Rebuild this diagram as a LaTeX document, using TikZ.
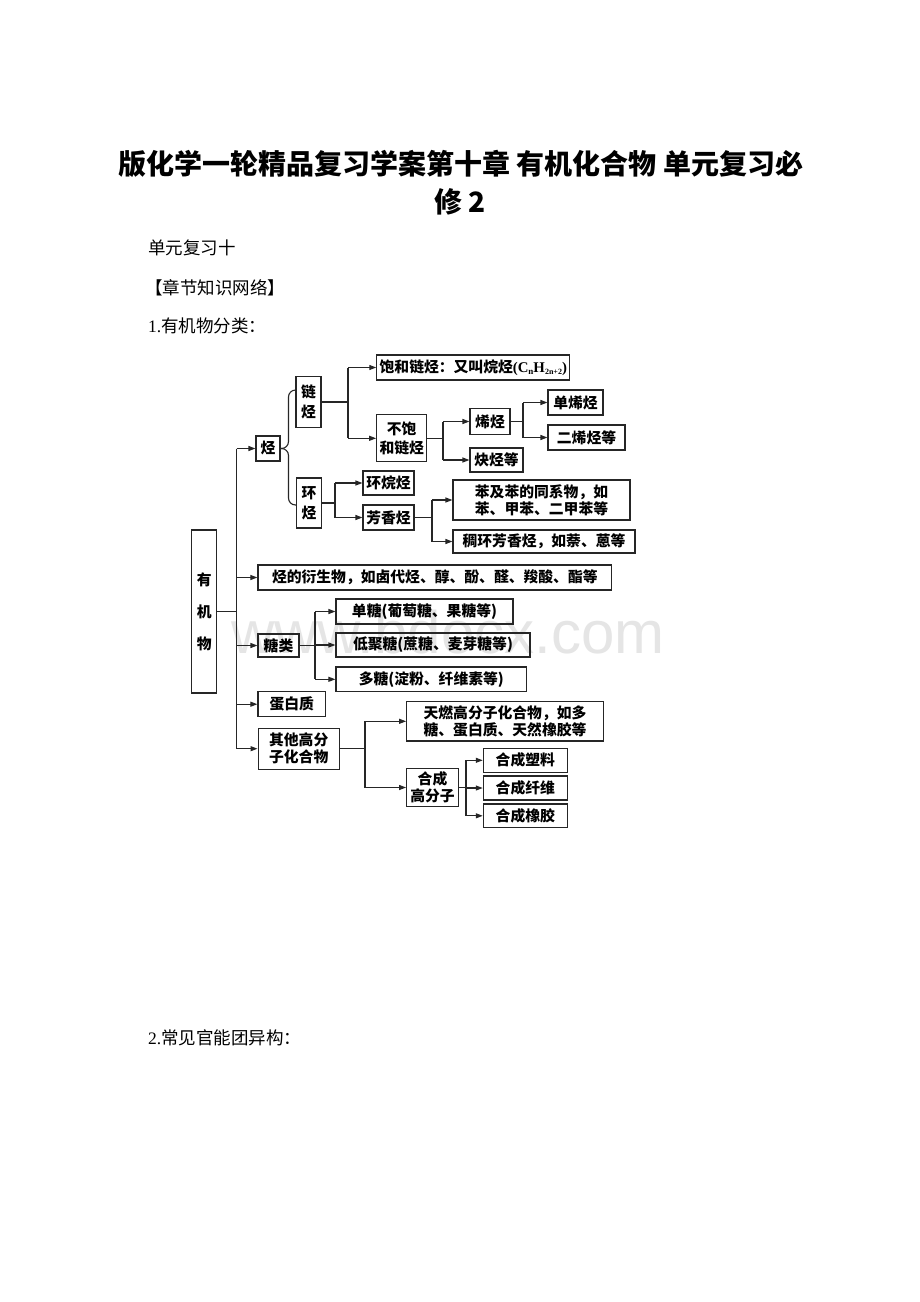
\documentclass[tikz,border=0pt]{standalone}
\usepackage{fontspec}
\setmainfont{Liberation Serif}
\newfontfamily\cjk{Noto Sans CJK SC}
\newfontfamily\wmfont{Liberation Sans}
\usetikzlibrary{arrows.meta,calc}
\newcommand\bxfont{\cjk\bfseries\fontsize{14.8}{17}\selectfont}
\newcommand\pgfont{\cjk\fontsize{17.5}{20}\selectfont}
\begin{document}
\begin{tikzpicture}[x=1pt,y=-1pt,
  box/.style={draw=black!85, line width=1.1pt, inner sep=0pt, align=center, font=\bxfont},
  conn/.style={draw=black!85, line width=1.1pt},
  arr/.style={conn, -{Triangle[length=7pt,width=5pt]}},
  pg/.style={anchor=west, inner sep=0pt, font=\pgfont}
]
\useasboundingbox (0,0) rectangle (920,1302);
\fill[white] (0,0) rectangle (920,1302);

% watermark
\node[inner sep=0pt, text=black!10, font=\wmfont\fontsize{60}{60}\selectfont] (wm) at (448,632) {www.bdocx.com};

% page texts
\node[inner sep=0pt, font=\cjk\bfseries\fontsize{28}{34}\selectfont] (t1) at (461,164) {版化学一轮精品复习学案第十章 有机化合物 单元复习必};
\node[inner sep=0pt, font=\cjk\bfseries\fontsize{28}{34}\selectfont] (t2) at (460,202) {修 2};
\node[pg] (p1) at (148,248) {单元复习十};
\node[pg] (p2) at (145,288) {【章节知识网络】};
\node[pg] (p3) at (148,326) {{\rmfamily 1.}有机物分类：};
\node[pg] (p4) at (148,1038) {{\rmfamily 2.}常见官能团异构：};

% boxes
\node[box, minimum width=25pt, minimum height=163pt, font=\cjk\bfseries\fontsize{14.8}{32}\selectfont] (youji) at (204.2,611.5) {有\\机\\物};
\node[box, minimum width=24pt, minimum height=25pt] (ting) at (268,448.5) {烃};
\node[box, minimum width=25pt, minimum height=51pt, font=\cjk\bfseries\fontsize{14.8}{20}\selectfont] (lianting) at (308.5,402) {链\\烃};
\node[box, minimum width=25pt, minimum height=50pt, font=\cjk\bfseries\fontsize{14.8}{20}\selectfont] (huanting) at (309,503) {环\\烃};
\node[box, minimum width=193pt, minimum height=25pt] (baohe) at (473.3,367.5) {饱和链烃：又叫烷烃{\rmfamily\bfseries(C{\fontsize{9}{9}\selectfont\raisebox{-2pt}{n}}H{\fontsize{8}{8}\selectfont\raisebox{-2pt}{2n+2}})}};
\node[box, minimum width=50pt, minimum height=47pt, font=\cjk\bfseries\fontsize{14.8}{19}\selectfont] (bubaohe) at (401.7,438.3) {不饱\\和链烃};
\node[box, minimum width=40pt, minimum height=26pt] (xiting) at (490,421.5) {烯烃};
\node[box, minimum width=53pt, minimum height=24pt] (queting) at (496.5,460) {炔烃等};
\node[box, minimum width=55pt, minimum height=25pt] (danxi) at (575.5,402.5) {单烯烃};
\node[box, minimum width=77pt, minimum height=25pt] (erxi) at (586.5,437.5) {二烯烃等};
\node[box, minimum width=51pt, minimum height=24pt] (huanwan) at (388.5,483) {环烷烃};
\node[box, minimum width=51pt, minimum height=25pt] (fangxiang) at (388.5,517.5) {芳香烃};
\node[box, minimum width=177pt, minimum height=40pt] (benji) at (541.5,500) {苯及苯的同系物，如\\苯、甲苯、二甲苯等};
\node[box, minimum width=182pt, minimum height=23pt] (chouhuan) at (544,541.5) {稠环芳香烃，如萘、蒽等};
\node[box, minimum width=353.7pt, minimum height=25pt] (yansheng) at (434.8,577.5) {烃的衍生物，如卤代烃、醇、酚、醛、羧酸、酯等};
\node[box, minimum width=41pt, minimum height=23pt] (tanglei) at (278.5,645.5) {糖类};
\node[box, minimum width=177pt, minimum height=25pt] (dantang) at (424.5,611.5) {单糖(葡萄糖、果糖等)};
\node[box, minimum width=194pt, minimum height=24pt] (dijutang) at (433,645) {低聚糖(蔗糖、麦芽糖等)};
\node[box, minimum width=190.7pt, minimum height=24.7pt] (duotang) at (431.3,679.3) {多糖(淀粉、纤维素等)};
\node[box, minimum width=67.7pt, minimum height=25pt] (danbai) at (291.8,704.2) {蛋白质};
\node[box, minimum width=81.3pt, minimum height=41.3pt] (qita) at (298.7,748.7) {其他高分\\子化合物};
\node[box, minimum width=196.7pt, minimum height=39.3pt] (tianran) at (505,721.3) {天燃高分子化合物，如多\\糖、蛋白质、天然橡胶等};
\node[box, minimum width=51.7pt, minimum height=38.3pt] (hecheng) at (432.5,787.5) {合成\\高分子};
\node[box, minimum width=84pt, minimum height=24pt] (suliao) at (525.3,760.3) {合成塑料};
\node[box, minimum width=84pt, minimum height=24pt] (xianwei) at (525.3,788) {合成纤维};
\node[box, minimum width=84pt, minimum height=23.7pt] (xiangjiao) at (525.3,815.8) {合成橡胶};

% junction x positions
\coordinate (tr) at (236.7,0);
\coordinate (bx) at (288.5,0);
\coordinate (j1) at (348,0);
\coordinate (j2) at (443,0);
\coordinate (j3) at (523,0);
\coordinate (j4) at (335,0);
\coordinate (j5) at (432,0);
\coordinate (j6) at (315,0);
\coordinate (j7) at (365,0);
\coordinate (j8) at (466,0);

% trunk
\draw[conn] (youji.east) -- (youji.east -| tr);
\draw[conn] (tr |- ting.west) -- (tr |- qita.west);
\foreach \n in {ting,yansheng,tanglei,danbai,qita}
  \draw[arr] (tr |- \n.west) -- (\n.west);

% brace
\draw[conn, rounded corners=7pt] ($(lianting.west)+(0,-12)$) -| (bx |- ting.east) -- (ting.east);
\draw[conn, rounded corners=7pt] (ting.east) -- (bx |- ting.east) |- ($(huanting.west)+(0,2)$);

% lianting
\draw[conn] (lianting.east) -- (lianting.east -| j1);
\draw[conn] (j1 |- baohe.west) -- (j1 |- bubaohe.west);
\draw[arr] (j1 |- baohe.west) -- (baohe.west);
\draw[arr] (j1 |- bubaohe.west) -- (bubaohe.west);

% bubaohe
\draw[conn] (bubaohe.east) -- (bubaohe.east -| j2);
\draw[conn] (j2 |- xiting.west) -- (j2 |- queting.west);
\draw[arr] (j2 |- xiting.west) -- (xiting.west);
\draw[arr] (j2 |- queting.west) -- (queting.west);

% xiting
\draw[conn] (xiting.east) -- (xiting.east -| j3);
\draw[conn] (j3 |- danxi.west) -- (j3 |- erxi.west);
\draw[arr] (j3 |- danxi.west) -- (danxi.west);
\draw[arr] (j3 |- erxi.west) -- (erxi.west);

% huanting
\draw[conn] (huanting.east) -- (huanting.east -| j4);
\draw[conn] (j4 |- huanwan.west) -- (j4 |- fangxiang.west);
\draw[arr] (j4 |- huanwan.west) -- (huanwan.west);
\draw[arr] (j4 |- fangxiang.west) -- (fangxiang.west);

% fangxiang
\draw[conn] (fangxiang.east) -- (fangxiang.east -| j5);
\draw[conn] (j5 |- benji.west) -- (j5 |- chouhuan.west);
\draw[arr] (j5 |- benji.west) -- (benji.west);
\draw[arr] (j5 |- chouhuan.west) -- (chouhuan.west);

% tanglei
\draw[conn] (tanglei.east) -- (tanglei.east -| j6);
\draw[conn] (j6 |- dantang.west) -- (j6 |- duotang.west);
\foreach \n in {dantang,dijutang,duotang}
  \draw[arr] (j6 |- \n.west) -- (\n.west);

% qita
\draw[conn] (qita.east) -- (qita.east -| j7);
\draw[conn] (j7 |- tianran.west) -- (j7 |- hecheng.west);
\draw[arr] (j7 |- tianran.west) -- (tianran.west);
\draw[arr] (j7 |- hecheng.west) -- (hecheng.west);

% hecheng
\draw[conn] (hecheng.east) -- (hecheng.east -| j8);
\draw[conn] (j8 |- suliao.west) -- (j8 |- xiangjiao.west);
\foreach \n in {suliao,xianwei,xiangjiao}
  \draw[arr] (j8 |- \n.west) -- (\n.west);
\end{tikzpicture}
\end{document}
